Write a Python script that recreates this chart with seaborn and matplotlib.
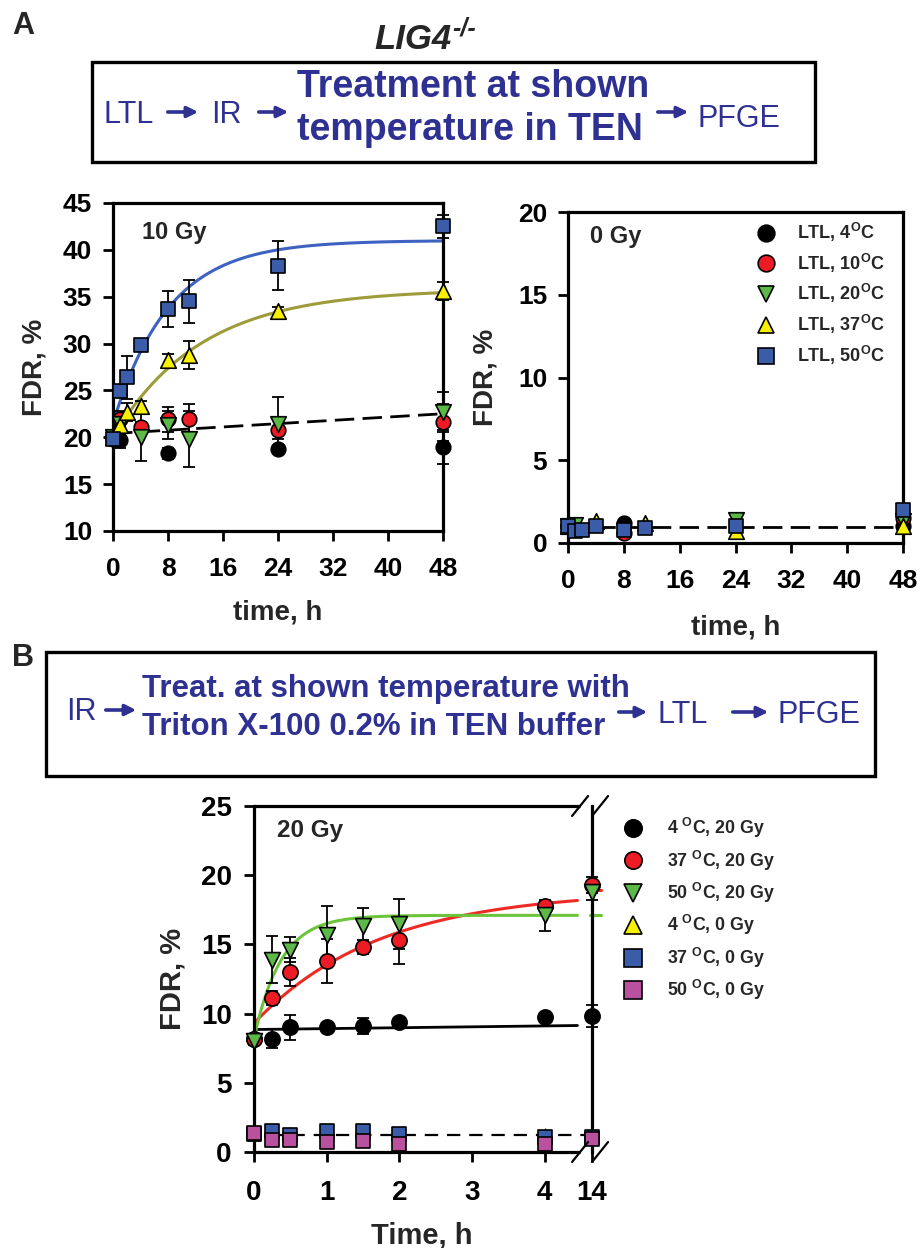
import numpy as np
import matplotlib
matplotlib.use("Agg")
import matplotlib.pyplot as plt
import seaborn as sns
from matplotlib.lines import Line2D
from matplotlib.patches import Rectangle

# ---------------- data: panel A, 10 Gy ----------------
t10_4 = [0, 1, 8, 24, 48]
fdr10_4 = [19.8, 19.7, 18.3, 18.7, 19.0]
err10_4 = [0.5, 0.8, 0.6, 0.3, 1.8]

t10_10 = [0, 1, 4, 8, 11, 24, 48]
fdr10_10 = [20.0, 22.0, 21.1, 21.9, 22.0, 20.8, 21.6]
err10_10 = [0.5, 0.8, 0.5, 1.3, 1.5, 1.0, 2.0]

t10_20 = [0, 1, 4, 8, 11, 24, 48]
fdr10_20 = [20.0, 21.4, 20.0, 21.3, 19.8, 21.4, 22.7]
err10_20 = [0.5, 1.0, 2.5, 1.5, 3.0, 2.9, 2.1]

t10_37 = [0, 1, 2, 4, 8, 11, 24, 48]
fdr10_37 = [20.0, 21.3, 22.7, 23.3, 28.2, 28.8, 33.5, 35.6]
err10_37 = [0.5, 0.8, 1.0, 0.6, 0.7, 1.5, 0.4, 1.0]

t10_50 = [0, 1, 2, 4, 8, 11, 24, 48]
fdr10_50 = [19.8, 24.9, 26.4, 29.8, 33.7, 34.5, 38.3, 42.5]
err10_50 = [0.5, 0.6, 2.3, 0.3, 1.9, 2.3, 2.6, 1.2]

# fits: start, plateau, rate  /  intercept, slope
fit10_50 = [21.5, 41.0, 0.124]
fit10_37 = [20.0, 35.8, 0.0785]
lin10_low = [20.4, 0.044]

# ---------------- data: panel A, 0 Gy ----------------
t0_4 = [0, 8, 48]
fdr0_4 = [1.0, 1.2, 1.0]
t0_10 = [0, 8, 48]
fdr0_10 = [1.0, 0.6, 1.5]
t0_20 = [0, 1, 24, 48]
fdr0_20 = [1.0, 1.1, 1.4, 1.3]
t0_37 = [0, 4, 11, 24, 48]
fdr0_37 = [1.0, 1.3, 1.2, 0.7, 1.0]
t0_50 = [0, 1, 2, 4, 8, 11, 24, 48]
fdr0_50 = [1.0, 0.7, 0.8, 1.0, 0.8, 0.9, 1.0, 2.0]
lin0 = [0.97, 0.0]

# ---------------- data: panel B ----------------
tB = [0, 0.25, 0.5, 1, 1.5, 2, 4, 14]
b_4_20 = [8.2, 8.2, 9.0, 9.0, 9.1, 9.4, 9.75, 9.8]
e_4_20 = [0.3, 0.7, 0.9, 0.3, 0.6, 0.3, 0.3, 0.8]
b_37_20 = [8.2, 11.15, 13.0, 13.8, 14.8, 15.3, 17.8, 19.3]
e_37_20 = [0.3, 0.5, 1.0, 1.6, 0.5, 1.7, 0.3, 0.6]
b_50_20 = [8.0, 13.9, 14.6, 15.7, 16.3, 16.5, 17.1, 18.8]
e_50_20 = [0.3, 1.7, 0.9, 2.1, 1.3, 1.8, 1.1, 0.6]
b_4_0 = [1.3, 1.4, 1.3, 1.2, 1.3, 1.2, 1.2, 1.2]
b_37_0 = [1.3, 1.55, 1.2, 1.5, 1.5, 1.3, 1.1, 1.1]
b_50_0 = [1.35, 0.85, 0.85, 0.75, 0.8, 0.6, 0.6, 0.95]

fitB_37 = [9.3, 18.9, 0.58]
fitB_50 = [8.2, 17.1, 2.71]
linB_4 = [8.85, 0.065]
linB_0 = [1.25, 0.0]

B_ticks = [0, 1, 2, 3, 4, 14]

labelsA = ["LTL, 4$^{O}$C", "LTL, 10$^{O}$C", "LTL, 20$^{O}$C",
           "LTL, 37$^{O}$C", "LTL, 50$^{O}$C"]
labelsB = ["4 $^{O}$C, 20 Gy", "37 $^{O}$C, 20 Gy", "50 $^{O}$C, 20 Gy",
           "4 $^{O}$C, 0 Gy", "37 $^{O}$C, 0 Gy", "50 $^{O}$C, 0 Gy"]

BLACK = "#000000"
RED = "#ed1c24"
GREEN = "#5cb947"
YELLOW = "#f7f000"
BLUE = "#3b5ca8"
MAGENTA = "#b9519f"
NAVY = "#2e3192"

W, H = 917, 1248

sns.set_theme(style="ticks")
plt.rcParams["font.family"] = ["Liberation Sans", "DejaVu Sans"]
plt.rcParams["font.weight"] = "bold"
plt.rcParams["axes.labelweight"] = "bold"
plt.rcParams["mathtext.fontset"] = "custom"
plt.rcParams["mathtext.rm"] = "Liberation Sans:bold"
plt.rcParams["mathtext.bf"] = "Liberation Sans:bold"
plt.rcParams["mathtext.it"] = "Liberation Sans:bold:italic"
plt.rcParams["mathtext.default"] = "rm"


def fx(x):
    return x / W


def fy(y):
    return 1 - y / H


def axes_px(fig, x0, y0, x1, y1):
    return fig.add_axes([fx(x0), fy(y1), (x1 - x0) / W, (y1 - y0) / H])


def expfit(t, p):
    t = np.asarray(t, dtype=float)
    return p[0] + (p[1] - p[0]) * (1 - np.exp(-p[2] * t))


def bx(t):
    # broken time axis: linear to 4 h, compressed after
    t = np.asarray(t, dtype=float)
    return np.where(t <= 4, t, 4 + (t - 4) * 0.065)


def style_axes(ax, xpad=12, ypad=8, size=19):
    for s in ax.spines.values():
        s.set_linewidth(2.3)
        s.set_color("black")
    ax.tick_params(direction="out", length=7, width=2, labelsize=size,
                   colors="black")
    ax.tick_params(axis="x", pad=xpad)
    ax.tick_params(axis="y", pad=ypad)
    ax.grid(False)
    ax.set_facecolor("white")


def points(ax, x, y, err, marker, color, s=110):
    if err is not None:
        ax.errorbar(x, y, yerr=err, fmt="none", ecolor="black",
                    elinewidth=1.3, capsize=4, capthick=1.3, zorder=3,
                    clip_on=False)
    sns.scatterplot(x=x, y=y, marker=marker, s=s, color=color,
                    edgecolor="black", linewidth=1.2, ax=ax, zorder=4,
                    clip_on=False, legend=False)


fig = plt.figure(figsize=(W / 100, H / 100), dpi=100)

# ---------------- Panel A, 10 Gy ----------------
ax1 = axes_px(fig, 113, 203, 443, 531)
tt = np.linspace(0, 48, 200)
sns.lineplot(x=tt, y=lin10_low[0] + lin10_low[1] * tt, color="black", lw=2,
             linestyle=(0, (7, 3)), ax=ax1, zorder=2)
sns.lineplot(x=tt, y=expfit(tt, fit10_37), color="#9d9b3a", lw=2.2, ax=ax1,
             zorder=2)
sns.lineplot(x=tt, y=expfit(tt, fit10_50), color="#3d62c2", lw=2.2, ax=ax1,
             zorder=2)
points(ax1, t10_4, fdr10_4, err10_4, "o", BLACK)
points(ax1, t10_10, fdr10_10, err10_10, "o", RED)
points(ax1, t10_20, fdr10_20, err10_20, "v", GREEN, s=125)
points(ax1, t10_37, fdr10_37, err10_37, "^", YELLOW, s=125)
points(ax1, t10_50, fdr10_50, err10_50, "s", BLUE, s=105)
ax1.set_xlim(0, 48)
ax1.set_ylim(10, 45)
ax1.set_xticks(range(0, 49, 8))
ax1.set_yticks(range(10, 46, 5))
style_axes(ax1)
ax1.set_xlabel("time, h", fontsize=20)
ax1.set_ylabel("FDR, %", fontsize=20)
ax1.xaxis.set_label_coords(0.5, -0.21)
ax1.yaxis.set_label_coords(-0.2, 0.5)
fig.text(fx(142), fy(232), "10 Gy", fontsize=17, fontweight="bold",
         va="center", ha="left")

# ---------------- Panel A, 0 Gy ----------------
ax2 = axes_px(fig, 568, 212, 903, 543)
sns.lineplot(x=tt, y=lin0[0] + lin0[1] * tt, color="black", lw=2,
             linestyle=(0, (7, 3)), ax=ax2, zorder=2)
points(ax2, t0_4, fdr0_4, None, "o", BLACK)
points(ax2, t0_10, fdr0_10, None, "o", RED)
points(ax2, t0_20, fdr0_20, None, "v", GREEN, s=125)
points(ax2, t0_37, fdr0_37, None, "^", YELLOW, s=125)
points(ax2, t0_50, fdr0_50, None, "s", BLUE, s=105)
ax2.set_xlim(0, 48)
ax2.set_ylim(0, 20)
ax2.set_xticks(range(0, 49, 8))
ax2.set_yticks(range(0, 21, 5))
style_axes(ax2)
ax2.set_xlabel("time, h", fontsize=20)
ax2.set_ylabel("FDR, %", fontsize=20)
ax2.xaxis.set_label_coords(0.5, -0.215)
ax2.yaxis.set_label_coords(-0.206, 0.5)
fig.text(fx(590), fy(237), "0 Gy", fontsize=17, fontweight="bold",
         va="center", ha="left")

handlesA = [Line2D([], [], ls="none", marker=m, markersize=12,
                   markerfacecolor=c, markeredgecolor="black",
                   markeredgewidth=1.2)
            for m, c in zip(["o", "o", "v", "^", "s"],
                            [BLACK, RED, GREEN, YELLOW, BLUE])]
ax2.legend(handlesA, labelsA, loc="upper left",
           bbox_to_anchor=(fx(757), fy(221)), bbox_transform=fig.transFigure,
           frameon=False, fontsize=13, handlelength=1.0, handletextpad=1.2,
           labelspacing=0.42, borderaxespad=0, borderpad=0)

# ---------------- Panel B ----------------
ax3 = axes_px(fig, 254, 806, 592, 1152)
tb1 = np.linspace(0, 4.45, 200)
sns.lineplot(x=tb1, y=linB_4[0] + linB_4[1] * tb1, color="black", lw=2,
             ax=ax3, zorder=2)
sns.lineplot(x=tb1, y=expfit(tb1, fitB_37), color="#ee2a24", lw=2.2, ax=ax3,
             zorder=2)
sns.lineplot(x=tb1, y=expfit(tb1, fitB_50), color="#6cc43c", lw=2.2, ax=ax3,
             zorder=2)
tail = np.array([4.62, 4.78])
ax3.plot(tail, expfit([14, 14], fitB_37), color="#ee2a24", lw=2.2,
         zorder=2, clip_on=False)
ax3.plot(tail, expfit([14, 14], fitB_50), color="#6cc43c", lw=2.2,
         zorder=2, clip_on=False)
ax3.plot([-0.1, 4.73], [linB_0[0], linB_0[0]], color="black", lw=1.6,
         linestyle=(0, (6, 4)), zorder=2, clip_on=False)

xb = bx(tB)
points(ax3, xb, b_4_20, e_4_20, "o", BLACK, s=120)
points(ax3, xb, b_37_20, e_37_20, "o", RED, s=120)
points(ax3, xb, b_50_20, e_50_20, "v", GREEN, s=130)
points(ax3, xb, b_4_0, None, "^", YELLOW, s=80)
points(ax3, xb, b_37_0, None, "s", BLUE, s=110)
points(ax3, xb, b_50_0, None, "s", MAGENTA, s=110)

xmax = float(bx(14))
ax3.set_xlim(0, xmax)
ax3.set_ylim(0, 25)
ax3.set_xticks(bx(B_ticks))
ax3.set_xticklabels([str(v) for v in B_ticks])
ax3.set_yticks(range(0, 26, 5))
style_axes(ax3, xpad=13, ypad=9, size=20)
ax3.spines["top"].set_visible(False)
ax3.spines["bottom"].set_visible(False)
for yv in (0, 25):
    ax3.plot([0, 4.48], [yv, yv], color="black", lw=2.3, clip_on=False,
             solid_capstyle="butt", zorder=5)
    ax3.plot([4.376, 4.596], [yv - 0.72, yv + 0.72], color="black", lw=1.6,
             clip_on=False, zorder=5)
    ax3.plot([4.651, 4.871], [yv - 0.72, yv + 0.72], color="black", lw=1.6,
             clip_on=False, zorder=5)
ax3.set_xlabel("Time, h", fontsize=21)
ax3.set_ylabel("FDR, %", fontsize=21)
ax3.xaxis.set_label_coords(0.497, -0.2)
ax3.yaxis.set_label_coords(-0.2, 0.5)
fig.text(fx(277), fy(830), "20 Gy", fontsize=17.5, fontweight="bold",
         va="center", ha="left")

handlesB = [Line2D([], [], ls="none", marker=m, markersize=12.5,
                   markerfacecolor=c, markeredgecolor="black",
                   markeredgewidth=1.2)
            for m, c in zip(["o", "o", "v", "^", "s", "s"],
                            [BLACK, RED, GREEN, YELLOW, BLUE, MAGENTA])]
ax3.legend(handlesB, labelsB, loc="upper left",
           bbox_to_anchor=(fx(624), fy(816)), bbox_transform=fig.transFigure,
           frameon=False, fontsize=12.8, handlelength=1.0, handletextpad=1.4,
           labelspacing=0.47, borderaxespad=0, borderpad=0)

# ---------------- labels and scheme boxes ----------------
fig.text(fx(12), fy(26), "A", fontsize=22, fontweight="bold", va="center")
fig.text(fx(12), fy(658), "B", fontsize=22, fontweight="bold", va="center")
fig.text(fx(374), fy(49), "LIG4", fontsize=25, fontweight="bold",
         style="italic", va="baseline", ha="left")
fig.text(fx(452), fy(35), "-/-", fontsize=18, fontweight="bold",
         style="italic", va="baseline", ha="left")

fig.patches.append(Rectangle((fx(92), fy(162)), (815 - 92) / W, 100 / H,
                             transform=fig.transFigure, fill=False,
                             edgecolor="black", lw=2.4))
fig.patches.append(Rectangle((fx(46), fy(776)), (875 - 46) / W, 124 / H,
                             transform=fig.transFigure, fill=False,
                             edgecolor="black", lw=2.4))


def arrow(x0, x1, y):
    fig.add_artist(matplotlib.patches.FancyArrowPatch(
        (fx(x0), fy(y)), (fx(x1), fy(y)), transform=fig.transFigure,
        arrowstyle="-|>", mutation_scale=16, lw=2.6, color=NAVY))


reg = dict(fontsize=22, fontweight="normal", color=NAVY, va="baseline",
           ha="left")
bold = dict(fontsize=27, fontweight="bold", color=NAVY, va="baseline",
            ha="left")
fig.text(fx(104), fy(123), "LTL", **reg)
arrow(165, 201, 112)
fig.text(fx(211), fy(123), "IR", **reg)
arrow(256, 291, 112)
fig.text(fx(297), fy(97), "Treatment at shown", **bold)
fig.text(fx(297), fy(140), "temperature in TEN", **bold)
arrow(655, 691, 112)
fig.text(fx(697), fy(127), "PFGE", **reg)

boldB = dict(bold, fontsize=22.5)
fig.text(fx(66), fy(720), "IR", **reg)
arrow(103, 139, 710)
fig.text(fx(142), fy(697), "Treat. at shown temperature with", **boldB)
fig.text(fx(142), fy(735), "Triton X-100 0.2% in TEN buffer", **boldB)
arrow(616, 650, 712)
fig.text(fx(658), fy(723), "LTL", **reg)
arrow(730, 771, 712)
fig.text(fx(777), fy(723), "PFGE", **reg)

fig.savefig("out.png", dpi=100, facecolor="white")
